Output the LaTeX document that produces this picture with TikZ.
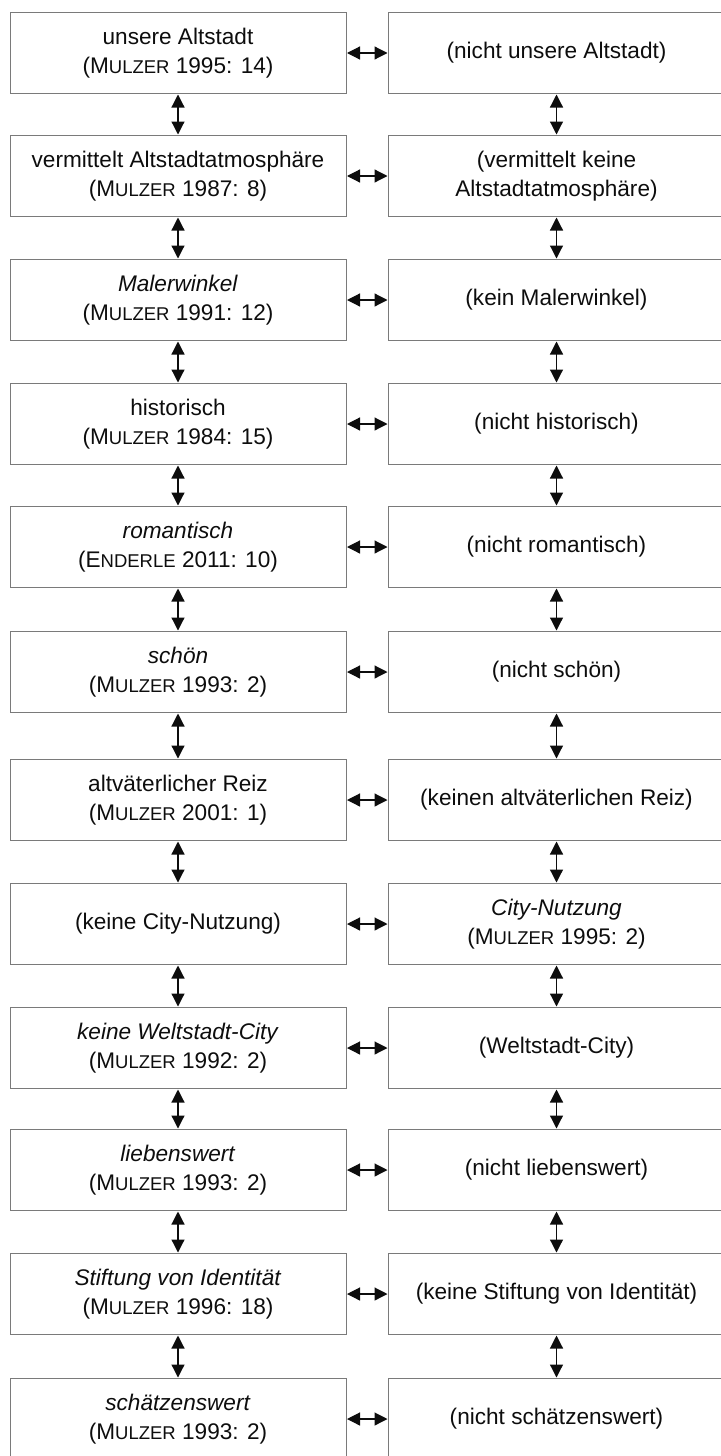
\documentclass[tikz,border=0pt]{standalone}
\usepackage{fontspec}
\setmainfont{Liberation Sans}
\usetikzlibrary{arrows.meta}
\newcommand\scname[2]{#1{\fontsize{18.5}{20}\selectfont #2}}
\newcommand\mulz{\scname{M}{ULZER}}
\newcommand\authEnderle{\scname{E}{NDERLE}}
\begin{document}
\begin{tikzpicture}[x=1pt,y=1pt,
  box/.style={draw=black!52, line width=1pt, minimum width=336pt, minimum height=81pt,
    anchor=north west, align=center, inner sep=0pt, text=black!95,
    font=\fontsize{22.6}{28.5}\selectfont},
  biarrow/.style={{Triangle[length=13pt,width=13pt]}-{Triangle[length=13pt,width=13pt]}, line width=1.2pt, black!95, shorten <=0.5pt, shorten >=0.5pt}]
\useasboundingbox (0,0) rectangle (720,-1456);
\def\lx{9.5}\def\rx{388}
\node[box] (L1) at (\lx,-12) {unsere Altstadt\\(\mulz{} 1995: 14)};
\node[box] (R1) at (\rx,-12) {(nicht unsere Altstadt)};
\node[box] (L2) at (\lx,-135) {vermittelt Altstadtatmosphäre\\(\mulz{} 1987: 8)};
\node[box] (R2) at (\rx,-135) {(vermittelt keine\\Altstadtatmosphäre)};
\node[box] (L3) at (\lx,-259) {\textit{Malerwinkel}\\(\mulz{} 1991: 12)};
\node[box] (R3) at (\rx,-259) {(kein Malerwinkel)};
\node[box] (L4) at (\lx,-383) {historisch\\(\mulz{} 1984: 15)};
\node[box] (R4) at (\rx,-383) {(nicht historisch)};
\node[box] (L5) at (\lx,-506) {\textit{romantisch}\\(\authEnderle{} 2011: 10)};
\node[box] (R5) at (\rx,-506) {(nicht romantisch)};
\node[box] (L6) at (\lx,-631) {\textit{schön}\\(\mulz{} 1993: 2)};
\node[box] (R6) at (\rx,-631) {(nicht schön)};
\node[box] (L7) at (\lx,-759) {altväterlicher Reiz\\(\mulz{} 2001: 1)};
\node[box] (R7) at (\rx,-759) {(keinen altväterlichen Reiz)};
\node[box] (L8) at (\lx,-883) {(keine City-Nutzung)};
\node[box] (R8) at (\rx,-883) {\textit{City-Nutzung}\\(\mulz{} 1995: 2)};
\node[box] (L9) at (\lx,-1007) {\textit{keine Weltstadt-City}\\(\mulz{} 1992: 2)};
\node[box] (R9) at (\rx,-1007) {(Weltstadt-City)};
\node[box] (L10) at (\lx,-1129) {\textit{liebenswert}\\(\mulz{} 1993: 2)};
\node[box] (R10) at (\rx,-1129) {(nicht liebenswert)};
\node[box] (L11) at (\lx,-1253) {\textit{Stiftung von Identität}\\(\mulz{} 1996: 18)};
\node[box] (R11) at (\rx,-1253) {(keine Stiftung von Identität)};
\node[box] (L12) at (\lx,-1378) {\textit{schätzenswert}\\(\mulz{} 1993: 2)};
\node[box] (R12) at (\rx,-1378) {(nicht schätzenswert)};
\foreach \i in {1,...,12} {\draw[biarrow] (L\i.east) -- (R\i.west);}
\foreach \i [evaluate=\i as \j using int(\i+1)] in {1,...,11} {
  \draw[biarrow] (L\i.south) -- (L\j.north);
  \draw[biarrow] (R\i.south) -- (R\j.north);
}
\end{tikzpicture}
\end{document}
